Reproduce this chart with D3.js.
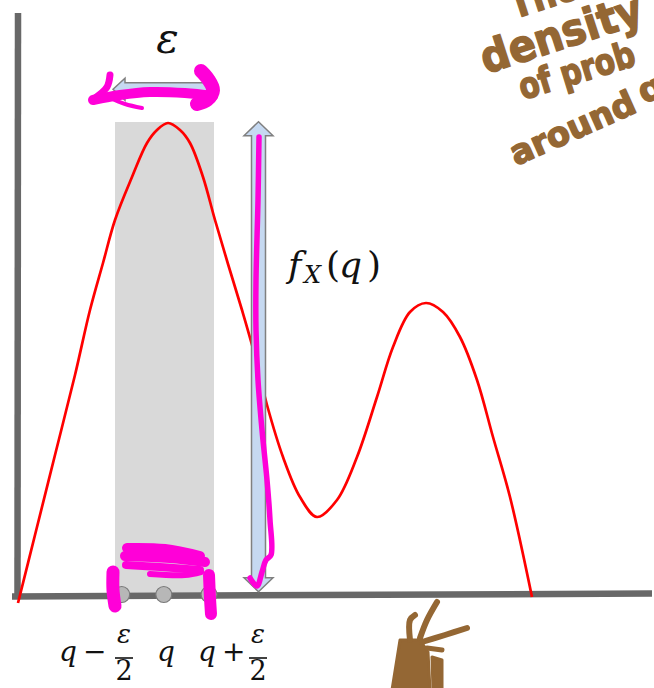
<!DOCTYPE html>
<html>
<head>
<meta charset="utf-8">
<script src="https://cdn.jsdelivr.net/npm/d3@7"></script>
<style>
  html, body { margin: 0; padding: 0; background: #fff; }
  svg { display: block; }
</style>
</head>
<body>
<svg id="chart" width="654" height="688"></svg>
<script>
// ---- density curve f_X, sampled along x ----
const densityX = [0.1, 1.8, 3.8, 5.8, 7.3, 8.6, 9.8, 11.5, 13.0, 14.0, 15.1, 16.3, 17.3, 18.6, 19.8,
                  21.1, 22.5, 23.5, 25.0, 26.6, 28.3, 30.0, 32.0, 34.0, 36.0, 37.6, 39.3, 40.9,
                  42.6, 44.3, 46.0, 47.6, 49.3, 51.5];
const densityY = [-0.7, 6.1, 14.1, 22.1, 28.6, 33.3, 37.6, 41.9, 45.3, 46.6, 47.3, 46.6, 45.3, 41.9, 37.6,
                  33.2, 28.6, 25.1, 19.1, 13.9, 9.9, 7.9, 9.6, 13.9, 19.9, 24.9, 28.4, 29.3,
                  28.4, 25.9, 21.6, 15.9, 9.9, -0.1];

// ---- interval around q ----
const markerX = [10.47, 14.68, 19.2];          // q - eps/2, q, q + eps/2
const markerLabels = ["q −", "q", "q +"];
const markerFrac = [true, false, true];
const bandX = [9.8, 19.7];                      // shaded strip
const bandTop = 47.4;
const epsArrowX = [9.6, 20.1];                  // width arrow (epsilon)
const epsArrowLevel = 50.67;
const fqArrowX = 24.15;                         // height arrow f_X(q)
const fqArrowY = [0.43, 47.43];

// ---- ink annotations (x, y in chart units) ----
const pinkStrokes = [
  { w: 10, pts: [[7.6, 49.6], [10.3, 50.1], [13.3, 50.4], [16.8, 50.3], [19.6, 50.0]] },
  { w: 14, pts: [[18.4, 52.5], [19.1, 51.7], [19.6, 50.6], [19.0, 49.6], [18.0, 49.2]] },
  { w: 7,  pts: [[9.3, 52.1], [9.0, 50.9], [7.8, 49.8]] },
  { w: 4,  pts: [[9.1, 49.9], [10.8, 49.2], [12.5, 48.8]] },
  { w: 5.5,pts: [[24.2, 45.9], [24.1, 39.6], [23.9, 31.6], [23.9, 26.6], [24.1, 21.6], [24.5, 16.6],
                 [25.0, 11.6], [25.3, 7.6], [25.4, 4.1], [24.9, 3.6], [24.5, 2.4], [24.0, 1.0], [23.3, 1.8]] },
  { w: 13, pts: [[9.6, 2.4], [9.6, 0.6], [9.8, -1.0]] },
  { w: 12, pts: [[19.2, 2.1], [19.3, -0.2], [19.4, -1.8]] },
  // scribble inside the strip
  { w: 10, pts: [[11.0, 4.8], [14.8, 4.7], [18.3, 4.0]] },
  { w: 10, pts: [[10.8, 4.0], [15.3, 3.8], [18.8, 3.4]] },
  { w: 8,  pts: [[10.9, 3.1], [14.3, 2.9], [18.3, 2.6]] },
  { w: 6,  pts: [[13.3, 2.2], [16.8, 2.1], [18.4, 2.4]] }
];
const brownMass = [[37.5, -9.4], [38.3, -4.4], [40.3, -4.4], [41.1, -5.6], [41.3, -9.4]];
const brownMass2 = [[41.5, -6.1], [42.5, -6.4], [42.5, -9.4], [41.6, -9.4]];
const brownStrokes = [
  { w: 6, pts: [[39.3, -4.4], [39.3, -2.4], [39.8, -1.9]] },
  { w: 6, pts: [[40.3, -4.2], [41.0, -2.4], [42.0, -0.6]] },
  { w: 6, pts: [[40.5, -4.6], [42.8, -3.9], [45.0, -3.2]] },
  { w: 5, pts: [[41.0, -5.2], [42.5, -5.4]] }
];
const noteLines = ["The", "density", "of prob", "around", "q"];

const svg = d3.select("#chart");
const x = d3.scaleLinear().domain([0, 64]).range([17, 657]);
const y = d3.scaleLinear().domain([0, 50]).range([596, 96]);

const AXIS = "#686868", RED = "#ff0000", PINK = "#ff00d8", BROWN = "#946734";
const MATH = "'DejaVu Serif', 'Liberation Serif', serif";

// shaded strip of width epsilon
svg.append("rect")
  .attr("x", x(bandX[0])).attr("y", y(bandTop))
  .attr("width", x(bandX[1]) - x(bandX[0]))
  .attr("height", y(0) - y(bandTop))
  .attr("fill", "#d9d9d9");

// axes
svg.append("line")
  .attr("x1", x(0.05)).attr("y1", y(-0.15)).attr("x2", x(0.1)).attr("y2", y(58.3))
  .attr("stroke", AXIS).attr("stroke-width", 6.5);
svg.append("line")
  .attr("x1", x(-0.5)).attr("y1", y(-0.05)).attr("x2", x(63.5)).attr("y2", y(0.25))
  .attr("stroke", AXIS).attr("stroke-width", 6.5);

// density curve
const curve = d3.line()
  .x((d, i) => x(densityX[i]))
  .y((d, i) => y(densityY[i]))
  .curve(d3.curveCatmullRom.alpha(0.5));
svg.append("path")
  .attr("d", curve(densityX))
  .attr("fill", "none").attr("stroke", RED).attr("stroke-width", 2.7);

// interval end points and centre
svg.selectAll("circle.marker").data(markerX).join("circle")
  .attr("class", "marker")
  .attr("cx", d => x(d)).attr("cy", y(0.15)).attr("r", 8)
  .attr("fill", "#b7b7b7").attr("stroke", "#7a7a7a").attr("stroke-width", 1.2);

// block double arrows
function vArrow(cx, yLo, yHi, sh, hh, hl) {
  const t = y(yHi), b = y(yLo);
  return [[cx, t], [cx + hh, t + hl], [cx + sh, t + hl], [cx + sh, b - hl], [cx + hh, b - hl], [cx, b],
          [cx - hh, b - hl], [cx - sh, b - hl], [cx - sh, t + hl], [cx - hh, t + hl]];
}
function hArrow(xLo, xHi, cy, sh, hh, hl) {
  const l = x(xLo), r = x(xHi);
  return [[l, cy], [l + hl, cy - hh], [l + hl, cy - sh], [r - hl, cy - sh], [r - hl, cy - hh], [r, cy],
          [r - hl, cy + hh], [r - hl, cy + sh], [l + hl, cy + sh], [l + hl, cy + hh]];
}
const poly = pts => "M" + pts.map(p => p.join(",")).join("L") + "Z";
svg.append("path")
  .attr("d", poly(vArrow(x(fqArrowX), fqArrowY[0], fqArrowY[1], 7, 14.5, 14)))
  .attr("fill", "#c6d9f1").attr("stroke", "#808080").attr("stroke-width", 1.5);
svg.append("path")
  .attr("d", poly(hArrow(epsArrowX[0], epsArrowX[1], y(epsArrowLevel), 6.6, 11, 12)))
  .attr("fill", "#c6d9f1").attr("stroke", "#808080").attr("stroke-width", 1.5);

// epsilon above the strip
svg.append("text")
  .attr("x", 167.5).attr("y", 53).attr("text-anchor", "middle")
  .attr("font-family", MATH).attr("font-style", "italic").attr("font-size", 42)
  .attr("fill", "#111").text("ε");

// f_X(q) beside the height arrow
const fq = svg.append("text")
  .attr("y", 277)
  .attr("font-family", MATH).attr("font-size", 36).attr("fill", "#111");
fq.append("tspan").attr("x", 288).attr("font-style", "italic").text("f");
fq.append("tspan").attr("x", 304).attr("font-style", "italic").attr("font-size", 24).attr("dy", 6).text("X");
fq.append("tspan").attr("x", 326).attr("dy", -6).text("(");
fq.append("tspan").attr("x", 339).attr("font-style", "italic").text("q");
fq.append("tspan").attr("x", 367).text(")");

// labels under the axis
const labelStart = [59, 157, 198];
const fracCentre = [124, null, 258];
markerLabels.forEach((lab, i) => {
  const t = svg.append("text")
    .attr("x", labelStart[i]).attr("y", 661)
    .attr("font-family", MATH).attr("font-size", 28).attr("fill", "#111");
  const parts = lab.split(" ");
  t.append("tspan").attr("font-style", "italic").text(parts[0]);
  if (parts[1]) t.append("tspan").attr("dx", 6).text(parts[1]);
  if (markerFrac[i]) {
    const cx = fracCentre[i];
    svg.append("text").attr("x", cx).attr("y", 643).attr("text-anchor", "middle")
      .attr("font-family", MATH).attr("font-style", "italic").attr("font-size", 26)
      .attr("fill", "#111").text("ε");
    svg.append("line").attr("x1", cx - 9).attr("x2", cx + 9).attr("y1", 658).attr("y2", 658)
      .attr("stroke", "#111").attr("stroke-width", 1.6);
    svg.append("text").attr("x", cx).attr("y", 680).attr("text-anchor", "middle")
      .attr("font-family", MATH).attr("font-size", 27).attr("fill", "#111").text("2");
  }
});

// pink pen marks
const ink = d3.line().x(d => x(d[0])).y(d => y(d[1])).curve(d3.curveCatmullRom);
svg.selectAll("path.pink").data(pinkStrokes).join("path")
  .attr("class", "pink")
  .attr("d", d => ink(d.pts))
  .attr("fill", "none").attr("stroke", PINK).attr("stroke-width", d => d.w)
  .attr("stroke-linecap", "round").attr("stroke-linejoin", "round");

// brown pen marks
[brownMass, brownMass2].forEach(m => {
  svg.append("path")
    .attr("d", "M" + m.map(p => [x(p[0]), y(p[1])].join(",")).join("L") + "Z")
    .attr("fill", BROWN).attr("stroke", BROWN).attr("stroke-width", 3).attr("stroke-linejoin", "round");
});
svg.selectAll("path.brown").data(brownStrokes).join("path")
  .attr("class", "brown")
  .attr("d", d => ink(d.pts))
  .attr("fill", "none").attr("stroke", BROWN).attr("stroke-width", d => d.w)
  .attr("stroke-linecap", "round").attr("stroke-linejoin", "round");

// handwritten note: [x, y, angle, font size, run length]
const notePos = [[514, 19, -18, 40, 70], [486, 74, -18, 44, 168], [523, 100, -17, 36, 120],
                 [516, 166, -24, 34, 134], [644, 104, -24, 34, 0]];
noteLines.forEach((s, i) => {
  const [px, py, rot, fs, len] = notePos[i];
  const t = svg.append("text")
    .attr("font-family", "'DejaVu Sans', sans-serif").attr("font-weight", "bold")
    .attr("font-size", fs).attr("fill", BROWN)
    .attr("stroke", BROWN).attr("stroke-width", 1.5).attr("stroke-linejoin", "round")
    .text(s);
  const sx = len ? len / t.node().getComputedTextLength() : 1;
  t.attr("transform", `translate(${px},${py}) rotate(${rot}) scale(${sx},1)`);
});
</script>
</body>
</html>
